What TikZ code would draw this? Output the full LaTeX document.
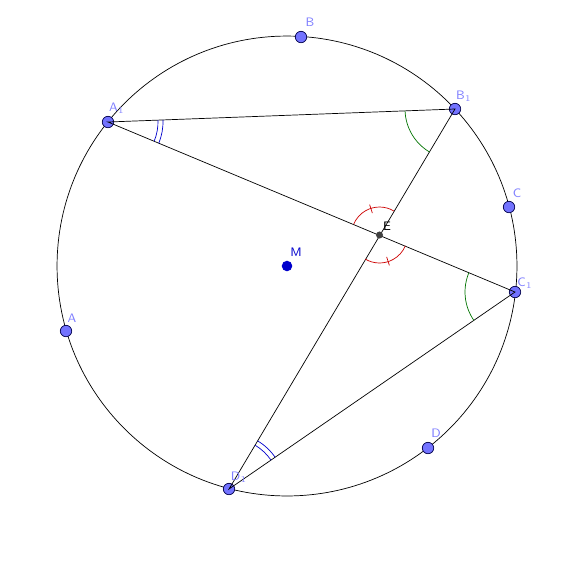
\documentclass[tikz,border=0pt]{standalone}
\usetikzlibrary{angles,calc}
\tikzset{
  pt/.style={circle,fill=blue!55!white,draw=blue!30!black,inner sep=0pt,minimum size=6.5pt},
  lab/.style={text=blue!50!white,font=\sffamily\scriptsize,inner sep=1pt},
}
\begin{document}
\begin{tikzpicture}[x=0.02cm,y=-0.02cm]
    \useasboundingbox (0,0) rectangle (581,569);
    \coordinate (Mc) at (287,266);
    \draw (Mc) circle (4.6cm);

    \node[pt] (A1) at (108,122) {};
    \node[pt] (B1) at (455,109) {};
    \node[pt] (C1) at (515,292) {};
    \node[pt] (D1) at (229,489) {};
    \node[pt] (A) at (66,331) {};
    \node[pt] (B) at (301,37) {};
    \node[pt] (C) at (509,207) {};
    \node[pt] (D) at (428,448) {};
    \node[circle,fill=blue!80!black,inner sep=0pt,minimum size=6pt] (M) at (Mc) {};
    \coordinate (E) at (379.5,235);

    \draw (A1.center) -- (B1.center) -- (D1.center) -- (C1.center) -- cycle;

    \pic[draw=blue!80!black,angle radius=1.1cm] {angle=C1--A1--B1};
    \pic[draw=blue!80!black,angle radius=1.0cm] {angle=C1--A1--B1};
    \pic[draw=blue!80!black,angle radius=1.12cm] {angle=C1--D1--B1};
    \pic[draw=blue!80!black,angle radius=1.02cm] {angle=C1--D1--B1};
    \pic[draw=green!45!black,angle radius=1.0cm] {angle=A1--B1--D1};
    \pic[draw=green!45!black,angle radius=1.0cm] {angle=A1--C1--D1};
    \pic[draw=red!80!black,angle radius=0.56cm] {angle=B1--E--A1};
    \pic[draw=red!80!black,angle radius=0.56cm] {angle=D1--E--C1};
    \draw[red!80!black] ($(E)+(-108:23)$) -- ($(E)+(-108:32)$);
    \draw[red!80!black] ($(E)+(72:23)$) -- ($(E)+(72:32)$);
    \fill[black!75] (E) circle (2pt);

    \node[lab] at (310,22) {B};
    \node[lab] at (117,108) {A$_1$};
    \node[lab] at (464,96) {B$_1$};
    \node[lab] at (517,193) {C};
    \node[lab] at (525,283) {C$_1$};
    \node[lab] at (436,433) {D};
    \node[lab] at (239,477) {D$_1$};
    \node[lab] at (72,318) {A};
    \node[lab,text=blue!80!black] at (296,252) {M};
    \node[lab,text=black] at (387,226) {E};
\end{tikzpicture}
\end{document}
